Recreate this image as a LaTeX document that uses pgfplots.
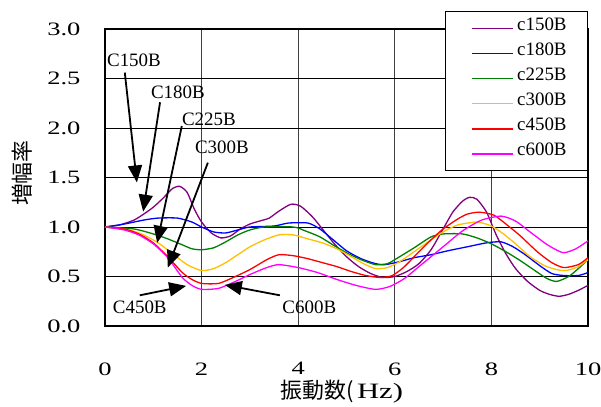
\documentclass[border=0pt]{standalone}
\usepackage{pgfplots}
\pgfplotsset{compat=1.18}
\usepackage{fontspec}
\setmainfont{Liberation Serif}
\newfontfamily\widefont[FakeStretch=1.4]{Liberation Serif}
\newfontfamily\cjk{Noto Sans CJK JP}
\usetikzlibrary{arrows.meta}

\definecolor{cA}{RGB}{128,0,128}
\definecolor{cB}{RGB}{0,0,255}
\definecolor{cC}{RGB}{0,128,0}
\definecolor{cD}{RGB}{255,192,0}
\definecolor{cE}{RGB}{255,0,0}
\definecolor{cF}{RGB}{255,0,255}

\tikzset{
  annfont/.style={font=\fontsize{19}{19}\selectfont},
  annarrow/.style={line width=1.8bp, -{Triangle[length=17bp,width=14bp]}},
}

\begin{document}
\begin{tikzpicture}
\begin{axis}[
  at={(105bp,81bp)}, anchor=south west,
  scale only axis, width=483bp, height=297bp,
  xmin=0, xmax=10, ymin=0, ymax=3,
  xtick={0,2,...,10}, ytick={0,0.5,...,3},
  grid=major,
  major x grid style={black!75, line width=0.8bp},
  major y grid style={black, line width=0.8bp},
  axis line style={black, line width=1.2bp},
  major tick length=0pt,
  clip=false,
  /pgf/number format/assume math mode=true,
  tick label style={font=\widefont\fontsize{19}{19}\selectfont},
  yticklabel style={/pgf/number format/fixed, /pgf/number format/fixed zerofill, /pgf/number format/precision=1, xshift=-21bp},
  xticklabel style={yshift=-33bp},
  xlabel={{\cjk 振動数(}\,{\widefont Hz)}},
  ylabel={\cjk 増幅率},
  label style={font=\fontsize{22}{22}\selectfont},
  xlabel style={at={(axis description cs:0.49,-0.222)}, anchor=center},
  ylabel style={at={(axis description cs:-0.172,0.515)}, anchor=center},
  legend cell align=left,
  legend image code/.code={%
    \path[draw=none, fill=none] (0bp,-6.5bp) rectangle (47bp,6.5bp);
    \fill[#1, draw=none] (6bp,-0.8bp) rectangle (47bp,0.8bp);},
  legend style={at={(axis description cs:1,1.059)}, anchor=north east,
    draw=black, line width=0.8bp, fill=white,
    font=\fontsize{19}{19}\selectfont,
    nodes={inner sep=0pt, text height=13bp, text depth=9bp},
    inner xsep=21bp, inner ysep=5.5bp, row sep=3.1bp, column sep=4bp},
  every axis plot/.append style={line width=1.3bp, smooth, tension=0.4},
]
\addplot[cA] coordinates {(0,1.00)(0.3,1.02)(0.6,1.07)(0.8,1.13)(1.0,1.20)(1.2,1.29)(1.4,1.39)(1.55,1.41)(1.7,1.35)(1.85,1.18)(2.0,1.05)(2.2,0.94)(2.4,0.89)(2.6,0.91)(2.8,0.98)(3.0,1.03)(3.2,1.06)(3.4,1.09)(3.6,1.16)(3.85,1.23)(4.05,1.21)(4.3,1.10)(4.5,0.98)(4.75,0.83)(5.0,0.70)(5.25,0.60)(5.5,0.53)(5.75,0.49)(6.0,0.50)(6.25,0.55)(6.5,0.63)(6.75,0.77)(7.0,0.98)(7.2,1.15)(7.4,1.26)(7.55,1.30)(7.7,1.28)(7.9,1.15)(8.1,0.92)(8.3,0.73)(8.5,0.58)(8.75,0.45)(9.0,0.36)(9.2,0.32)(9.4,0.30)(9.6,0.32)(9.8,0.36)(10,0.41)};
\addlegendentry{c150B}
\addplot[cB] coordinates {(0,1.00)(0.4,1.03)(0.8,1.07)(1.1,1.09)(1.5,1.09)(1.8,1.05)(2.0,1.00)(2.25,0.95)(2.5,0.94)(2.75,0.97)(3.0,1.00)(3.5,1.01)(3.8,1.04)(4.2,1.04)(4.45,0.98)(4.75,0.86)(5.0,0.76)(5.3,0.68)(5.6,0.63)(5.8,0.62)(6.1,0.65)(6.4,0.69)(6.75,0.72)(7.1,0.76)(7.5,0.80)(7.9,0.84)(8.2,0.85)(8.45,0.80)(8.7,0.72)(9.0,0.61)(9.25,0.53)(9.5,0.51)(9.8,0.51)(10,0.54)};
\addlegendentry{c180B}
\addplot[cC] coordinates {(0,1.00)(0.6,0.98)(1.0,0.93)(1.3,0.88)(1.6,0.82)(1.8,0.78)(2.0,0.77)(2.25,0.79)(2.5,0.85)(2.75,0.92)(3.0,0.97)(3.3,1.00)(3.9,1.00)(4.15,0.96)(4.45,0.90)(4.75,0.81)(5.0,0.74)(5.3,0.67)(5.6,0.62)(5.85,0.63)(6.1,0.70)(6.4,0.79)(6.75,0.90)(7.0,0.93)(7.4,0.93)(7.7,0.89)(8.0,0.83)(8.3,0.75)(8.6,0.66)(8.9,0.56)(9.15,0.48)(9.35,0.45)(9.6,0.50)(9.8,0.58)(10,0.67)};
\addlegendentry{c225B}
\addplot[cD] coordinates {(0,1.00)(0.5,0.97)(0.8,0.92)(1.1,0.84)(1.4,0.73)(1.7,0.62)(2.0,0.56)(2.25,0.58)(2.5,0.64)(2.75,0.72)(3.0,0.80)(3.3,0.87)(3.6,0.92)(3.9,0.92)(4.2,0.88)(4.5,0.84)(4.8,0.78)(5.1,0.70)(5.35,0.63)(5.6,0.58)(5.85,0.59)(6.1,0.65)(6.4,0.75)(6.75,0.87)(7.0,0.95)(7.3,1.02)(7.7,1.05)(8.0,1.01)(8.25,0.93)(8.5,0.83)(8.8,0.70)(9.1,0.61)(9.35,0.57)(9.55,0.56)(9.8,0.60)(10,0.67)};
\addlegendentry{c300B}
\addplot[cE] coordinates {(0,1.00)(0.4,0.98)(0.7,0.93)(1.0,0.84)(1.3,0.70)(1.6,0.54)(1.8,0.47)(2.0,0.43)(2.35,0.43)(2.7,0.50)(3.0,0.57)(3.35,0.67)(3.6,0.72)(3.9,0.71)(4.2,0.68)(4.5,0.64)(4.8,0.60)(5.1,0.55)(5.4,0.51)(5.7,0.49)(5.95,0.51)(6.2,0.60)(6.5,0.75)(6.75,0.87)(7.0,0.98)(7.3,1.08)(7.5,1.13)(7.75,1.15)(8.05,1.12)(8.3,1.03)(8.6,0.91)(8.95,0.75)(9.25,0.64)(9.5,0.59)(9.8,0.62)(10,0.69)};
\addlegendentry{c450B}
\addplot[cF] coordinates {(0,1.00)(0.4,0.97)(0.7,0.92)(1.0,0.83)(1.3,0.69)(1.6,0.49)(1.8,0.41)(2.0,0.37)(2.35,0.38)(2.7,0.45)(3.0,0.52)(3.35,0.59)(3.6,0.62)(4.0,0.59)(4.4,0.54)(4.8,0.47)(5.2,0.41)(5.6,0.37)(5.9,0.40)(6.2,0.48)(6.5,0.60)(6.75,0.70)(7.0,0.80)(7.4,0.96)(7.8,1.07)(8.2,1.11)(8.5,1.06)(8.8,0.95)(9.1,0.84)(9.3,0.78)(9.5,0.74)(9.75,0.78)(10,0.86)};
\addlegendentry{c600B}

% labels with pointers to the individual curves
\node[annfont] at (axis cs:0.60,2.685) {C150B};
\draw[annarrow] (axis cs:0.41,2.56) -- (axis cs:0.66,1.45);
\node[annfont] at (axis cs:1.51,2.36) {C180B};
\draw[annarrow] (axis cs:1.14,2.26) -- (axis cs:0.79,1.155);
\node[annfont] at (axis cs:2.15,2.09) {C225B};
\draw[annarrow] (axis cs:1.59,2.02) -- (axis cs:1.08,0.84);
\node[annfont] at (axis cs:2.42,1.81) {C300B};
\draw[annarrow] (axis cs:2.13,1.65) -- (axis cs:1.30,0.59);
\node[annfont] at (axis cs:0.72,0.19) {C450B};
\draw[annarrow] (axis cs:0.72,0.31) -- (axis cs:1.68,0.405);
\node[annfont] at (axis cs:4.23,0.19) {C600B};
\draw[annarrow] (axis cs:3.62,0.31) -- (axis cs:2.48,0.415);
\end{axis}
\pgfresetboundingbox
\path[use as bounding box] (0bp,0bp) rectangle (601bp,407bp);
\end{tikzpicture}
\end{document}
